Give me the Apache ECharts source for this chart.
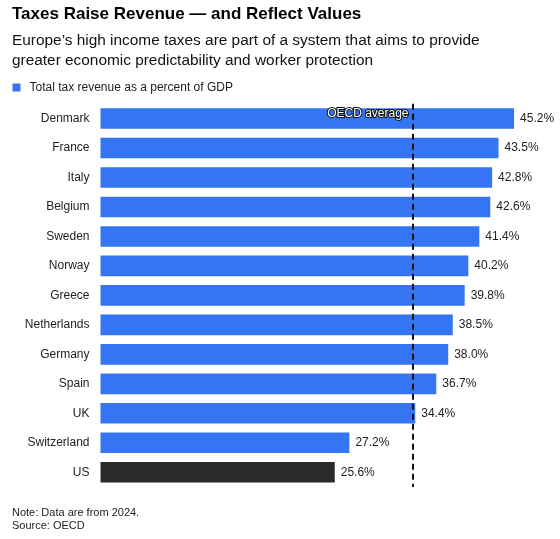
<!DOCTYPE html>
<html>
<head>
<meta charset="utf-8">
<script src="https://cdn.jsdelivr.net/npm/echarts@6/dist/echarts.min.js"></script>
<style>
html,body{margin:0;padding:0;background:#fff;}
#c{width:560px;height:539px;}
</style>
</head>
<body>
<div id="c"></div>
<script>
const countries = ["Denmark","France","Italy","Belgium","Sweden","Norway","Greece","Netherlands","Germany","Spain","UK","Switzerland","US"];
const taxRevenue = [45.2,43.5,42.8,42.6,41.4,40.2,39.8,38.5,38.0,36.7,34.4,27.2,25.6];
const oecdAverage = 34.1;
const highlightCountry = "US";

const FONT = '"Liberation Sans", Arial, sans-serif';
const chart = echarts.init(document.getElementById('c'), null, {renderer:'canvas'});

const barData = countries.map((c,i)=>({
  value: taxRevenue[i],
  itemStyle: {color: c===highlightCountry ? '#2b2b2b' : '#3574f2'}
}));

chart.setOption({
  animation:false,
  textStyle:{fontFamily:FONT},
  title:[
    {text:'Taxes Raise Revenue — and Reflect Values', left:12, top:3.5, padding:0,
     textStyle:{fontFamily:FONT,fontSize:17,fontWeight:'bold',color:'#000',lineHeight:22}},
    {text:'Europe’s high income taxes are part of a system that aims to provide\ngreater economic predictability and worker protection', left:12, top:31, padding:0,
     textStyle:{fontFamily:FONT,fontSize:15.4,fontWeight:'normal',color:'#111',lineHeight:19.8}},
    {text:'Note: Data are from 2024.\nSource: OECD', left:12, top:506, padding:0,
     textStyle:{fontFamily:FONT,fontSize:11,fontWeight:'normal',color:'#222',lineHeight:13.5}}
  ],
  legend:{
    left:12.5, top:81.5, padding:0, itemWidth:8, itemHeight:8, icon:'rect', itemGap:6,
    textStyle:{fontFamily:FONT,fontSize:12,color:'#222',padding:[0,0,0,4]},
    data:['Total tax revenue as a percent of GDP']
  },
  grid:{left:100.5, width:457.5, top:103.8, height:383.2, containLabel:false},
  xAxis:{type:'value', min:0, max:50, show:false},
  yAxis:{type:'category', data:countries, inverse:true,
    axisLine:{show:false}, axisTick:{show:false},
    axisLabel:{fontFamily:FONT,fontSize:12,color:'#222',margin:11}},
  series:[{
    name:'Total tax revenue as a percent of GDP',
    type:'bar', data:barData, barWidth:'70%',
    itemStyle:{color:'#3574f2'},
    label:{show:true, position:'right', distance:6, fontFamily:FONT, fontSize:12, color:'#222',
      formatter:p=>p.value.toFixed(1)+'%'},
    markLine:{
      symbol:'none', silent:true,
      lineStyle:{color:'#111', type:[6,4], width:2},
      label:{show:false},
      data:[{xAxis:oecdAverage}]
    }
  }]
});

const pt = chart.convertToPixel({xAxisIndex:0, yAxisIndex:0}, [oecdAverage, 0]);
chart.setOption({
  graphic:[{
    type:'text', x:pt[0]-4, y:pt[1]-5, z:100, zlevel:0,
    style:{text:'OECD average', align:'right', verticalAlign:'middle',
      font:'12px "Liberation Sans", Arial, sans-serif',
      fill:'#fff', stroke:'#111', lineWidth:2}
  }]
});
</script>
</body>
</html>
